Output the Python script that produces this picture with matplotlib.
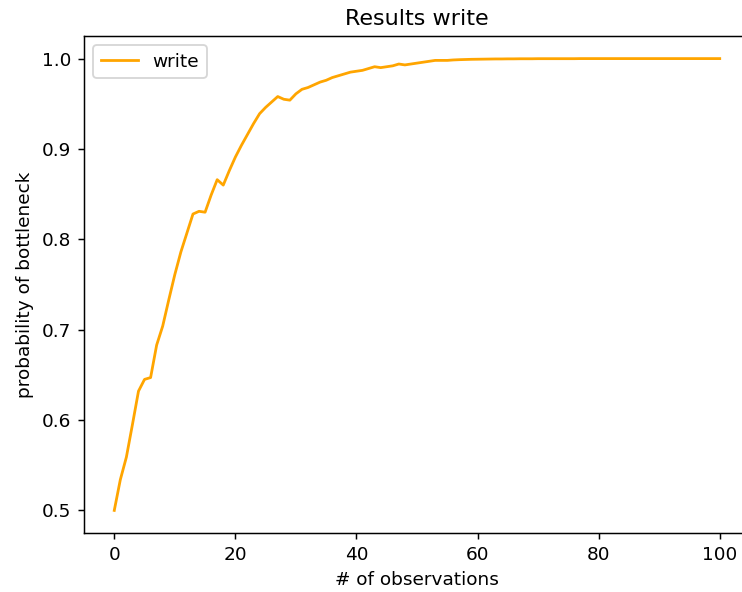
import numpy as np
import matplotlib.pyplot as plt

# probability estimate after each observation
observations = np.arange(0, 101)
probability = [
    0.500, 0.534, 0.559, 0.595, 0.632, 0.645, 0.647, 0.683, 0.704, 0.733,
    0.761, 0.786, 0.807, 0.828, 0.831, 0.830, 0.849, 0.866, 0.860, 0.876,
    0.891, 0.904, 0.916, 0.928, 0.939, 0.946, 0.952, 0.958, 0.955, 0.954,
    0.961, 0.966, 0.968, 0.971, 0.974, 0.976, 0.979, 0.981, 0.983, 0.985,
    0.986, 0.987, 0.989, 0.991, 0.990, 0.991, 0.992, 0.994, 0.993, 0.994,
    0.995, 0.996, 0.997, 0.998, 0.998, 0.998, 0.9985, 0.9988, 0.999, 0.9992,
    0.9993, 0.9994, 0.9995, 0.9996, 0.9996, 0.9997, 0.9997, 0.9998, 0.9998, 0.9998,
    0.9999, 0.9999, 0.9999, 0.9999, 0.9999, 0.9999, 0.9999, 1.0, 1.0, 1.0,
    1.0, 1.0, 1.0, 1.0, 1.0, 1.0, 1.0, 1.0, 1.0, 1.0,
    1.0, 1.0, 1.0, 1.0, 1.0, 1.0, 1.0, 1.0, 1.0, 1.0,
    1.0,
]

dpi = 400 / 3
fig = plt.figure(figsize=(742 / dpi, 592 / dpi), dpi=dpi)
ax = fig.add_axes([84 / 742, 1 - 533 / 592, (750 - 84) / 742, (533 - 36) / 592])

ax.plot(observations, probability, color='orange', label='write')
ax.set_title('Results write')
ax.set_xlabel('# of observations')
ax.set_ylabel('probability of bottleneck')
ax.legend(loc='upper left')

plt.savefig('out.png', dpi=dpi)
